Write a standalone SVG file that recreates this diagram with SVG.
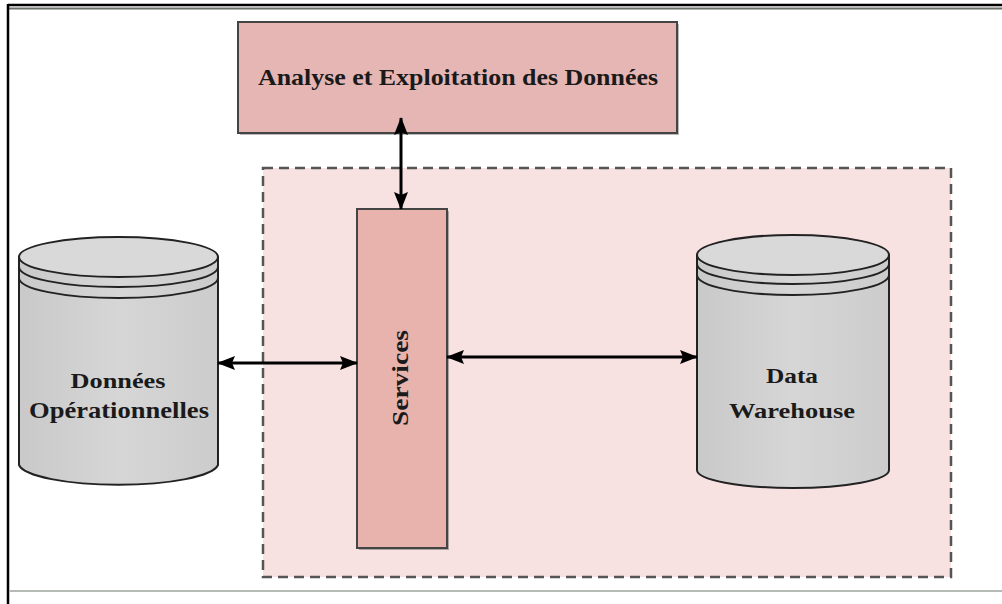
<svg xmlns="http://www.w3.org/2000/svg" width="1002" height="604" viewBox="0 0 1002 604">
  <defs>
    <marker id="arrow" viewBox="0 0 18 14" refX="17" refY="7" markerWidth="18" markerHeight="14" markerUnits="userSpaceOnUse" orient="auto-start-reverse">
      <path d="M0,0 L18,7 L0,14 L3,7 Z" fill="#000"/>
    </marker>
    <linearGradient id="cylBody" x1="0" y1="0" x2="1" y2="0">
      <stop offset="0" stop-color="#c9c9c9"/>
      <stop offset="0.5" stop-color="#d6d6d6"/>
      <stop offset="1" stop-color="#cccccc"/>
    </linearGradient>
  </defs>
  <style>
    .lbl { font-family: "Liberation Serif", "Times New Roman", serif; font-weight: bold; fill: #1a1a1a; text-anchor: middle; }
    .box { fill: #e6b6b4; stroke: #444; stroke-width: 2; }
    .cyl { fill: url(#cylBody); stroke: #222; stroke-width: 2; }
    .cyltop { fill: #d9d9d9; stroke: #222; stroke-width: 2; }
    .ring { fill: none; stroke: #222; stroke-width: 2; }
    .conn { stroke: #000; stroke-width: 3; fill: none; marker-start: url(#arrow); marker-end: url(#arrow); }
  </style>

  <!-- page background and frame -->
  <rect x="0" y="0" width="1002" height="604" fill="#fff"/>
  <line x1="8" y1="5" x2="1002" y2="5" stroke="#000" stroke-width="2.5"/>
  <line x1="8" y1="8.5" x2="1002" y2="8.5" stroke="#667066" stroke-width="2"/>
  <line x1="8" y1="4" x2="8" y2="604" stroke="#000" stroke-width="2.5"/>
  <line x1="9" y1="591" x2="1002" y2="591" stroke="#b4bab4" stroke-width="2"/>

  <!-- dashed system boundary -->
  <g id="system-boundary">
    <rect x="263" y="168" width="688" height="409" fill="#f7e1e1" stroke="#555" stroke-width="2.5" stroke-dasharray="10,6"/>
  </g>

  <!-- analysis box -->
  <g id="analyse">
    <rect x="240" y="24" width="439" height="111" fill="#777" opacity="0.5"/>
    <rect class="box" x="238" y="22" width="439" height="111"/>
    <text class="lbl" x="458" y="85" font-size="23" textLength="400" lengthAdjust="spacingAndGlyphs">Analyse et Exploitation des Données</text>
  </g>

  <!-- services column -->
  <g id="services">
    <rect x="359" y="211" width="90" height="339" fill="#666" opacity="0.5"/>
    <rect x="357" y="209" width="90" height="339" fill="#e8b2ad" stroke="#444" stroke-width="2"/>
    <text class="lbl" font-size="23" transform="translate(408,378) rotate(-90)" textLength="96" lengthAdjust="spacingAndGlyphs">Services</text>
  </g>

  <!-- operational data store -->
  <g id="donnees-operationnelles">
    <path class="cyl" d="M19,257 L19,465 A100,22 0 0 0 218,465 L218,257 Z"/>
    <ellipse class="cyltop" cx="118.5" cy="257" rx="99.5" ry="20"/>
    <path class="ring" d="M19,267 A99.5,20 0 0 0 218,267"/>
    <path class="ring" d="M19,278 A99.5,20 0 0 0 218,278"/>
    <text class="lbl" x="118" y="388" font-size="22" textLength="95" lengthAdjust="spacingAndGlyphs">Données</text>
    <text class="lbl" x="119" y="418" font-size="23" textLength="180" lengthAdjust="spacingAndGlyphs">Opérationnelles</text>
  </g>

  <!-- data warehouse store -->
  <g id="data-warehouse">
    <path class="cyl" d="M697,255 L697,470 A96,18 0 0 0 889,470 L889,255 Z"/>
    <ellipse class="cyltop" cx="793" cy="255" rx="96" ry="20"/>
    <path class="ring" d="M697,264 A96,20 0 0 0 889,264"/>
    <path class="ring" d="M697,275 A96,20 0 0 0 889,275"/>
    <text class="lbl" x="792" y="383" font-size="22" textLength="52" lengthAdjust="spacingAndGlyphs">Data</text>
    <text class="lbl" x="792" y="418" font-size="22" textLength="126" lengthAdjust="spacingAndGlyphs">Warehouse</text>
  </g>

  <!-- connectors -->
  <g id="connectors">
    <line class="conn" x1="401" y1="118" x2="401" y2="209"/>
    <line class="conn" x1="218" y1="363" x2="357" y2="363"/>
    <line class="conn" x1="447" y1="357" x2="697" y2="357"/>
  </g>
</svg>
